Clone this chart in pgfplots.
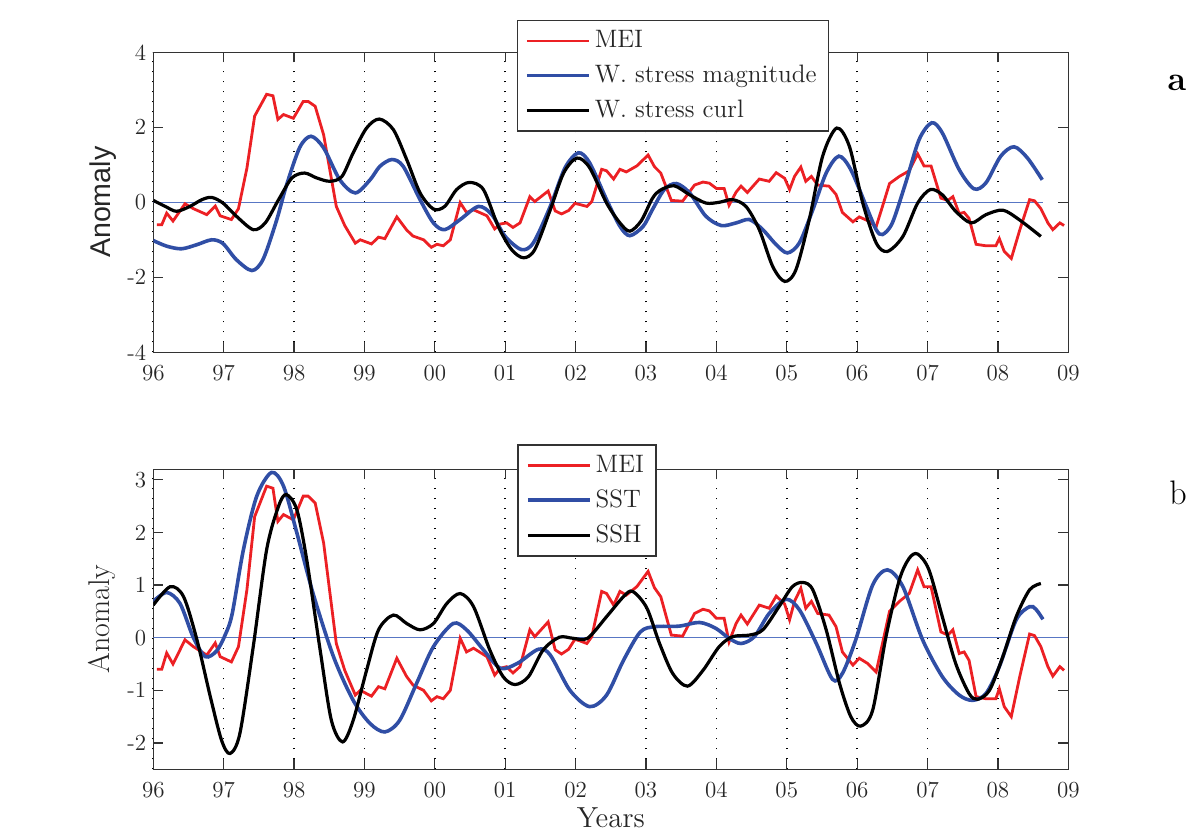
\documentclass[border=0pt]{standalone}
\usepackage{pgfplots}
\pgfplotsset{compat=1.18}
\usepackage{pgfplotstable}
\usepackage{fontspec}
\newfontfamily\arialfont{Liberation Sans}
\definecolor{meired}{RGB}{236,32,36}
\definecolor{lineblue}{RGB}{48,78,165}
\definecolor{zeroblue}{RGB}{88,118,196}

\pgfplotstableread{
x y
96.05 -0.60
96.12 -0.60
96.19 -0.29
96.28 -0.50
96.45 -0.04
96.57 -0.17
96.76 -0.33
96.88 -0.10
96.95 -0.36
97.11 -0.46
97.21 -0.17
97.33 0.91
97.44 2.30
97.61 2.88
97.70 2.84
97.77 2.21
97.85 2.34
97.99 2.24
98.13 2.69
98.20 2.69
98.30 2.56
98.42 1.80
98.60 -0.11
98.72 -0.62
98.87 -1.09
98.94 -1.00
99.10 -1.11
99.20 -0.93
99.29 -0.97
99.46 -0.39
99.60 -0.74
99.69 -0.90
99.84 -1.00
99.95 -1.20
100.03 -1.12
100.12 -1.16
100.22 -1.00
100.36 -0.01
100.45 -0.27
100.55 -0.20
100.74 -0.36
100.85 -0.71
100.93 -0.58
101.02 -0.55
101.11 -0.67
101.21 -0.55
101.35 0.15
101.42 0.02
101.61 0.30
101.71 -0.23
101.80 -0.31
101.90 -0.22
101.99 -0.03
102.06 -0.06
102.16 -0.11
102.23 0.02
102.37 0.88
102.44 0.84
102.54 0.62
102.63 0.88
102.72 0.81
102.87 0.97
103.03 1.26
103.12 0.95
103.21 0.78
103.36 0.05
103.52 0.03
103.69 0.46
103.81 0.54
103.90 0.51
104.00 0.37
104.11 0.37
104.18 -0.08
104.28 0.27
104.35 0.43
104.44 0.26
104.61 0.62
104.75 0.56
104.85 0.79
104.97 0.64
105.04 0.34
105.11 0.69
105.20 0.94
105.27 0.56
105.35 0.69
105.44 0.46
105.60 0.43
105.70 0.21
105.79 -0.27
105.94 -0.52
106.03 -0.39
106.15 -0.49
106.27 -0.65
106.36 -0.11
106.46 0.50
106.60 0.69
106.74 0.84
106.86 1.29
106.95 0.97
107.05 0.97
107.19 0.11
107.29 0.05
107.36 0.15
107.45 -0.30
107.52 -0.27
107.59 -0.43
107.69 -1.12
107.83 -1.16
107.97 -1.16
108.02 -0.97
108.09 -1.31
108.19 -1.50
108.31 -0.74
108.45 0.07
108.52 0.04
108.61 -0.17
108.71 -0.55
108.78 -0.73
108.88 -0.55
108.94 -0.62
}\mei

\pgfplotstableread{
x y
96.00 -1.02
96.19 -1.17
96.40 -1.24
96.62 -1.13
96.83 -1.00
96.99 -1.10
97.18 -1.53
97.40 -1.82
97.56 -1.52
97.75 -0.49
97.89 0.44
98.08 1.46
98.24 1.76
98.42 1.45
98.65 0.60
98.87 0.25
99.08 0.60
99.22 0.96
99.39 1.14
99.55 0.96
99.79 0.07
99.98 -0.55
100.14 -0.73
100.36 -0.46
100.62 -0.11
100.81 -0.33
101.00 -0.91
101.23 -1.26
101.40 -1.08
101.64 -0.11
101.85 0.92
102.04 1.32
102.20 1.05
102.44 0.07
102.63 -0.64
102.77 -0.89
102.96 -0.64
103.09 -0.20
103.26 0.34
103.43 0.50
103.62 0.25
103.85 -0.37
104.07 -0.62
104.28 -0.55
104.47 -0.46
104.66 -0.73
104.85 -1.13
105.01 -1.35
105.18 -1.08
105.37 -0.20
105.56 0.78
105.74 1.23
105.91 0.87
106.13 -0.11
106.27 -0.73
106.36 -0.86
106.50 -0.55
106.69 0.52
106.88 1.67
107.06 2.12
107.21 1.85
107.45 0.87
107.66 0.36
107.83 0.52
108.04 1.23
108.23 1.48
108.42 1.18
108.63 0.60
}\wsm

\pgfplotstableread{
x y
96.00 0.05
96.17 -0.11
96.33 -0.24
96.52 -0.11
96.69 0.07
96.83 0.13
96.99 -0.02
97.18 -0.37
97.42 -0.73
97.59 -0.55
97.78 0.07
97.97 0.65
98.15 0.78
98.32 0.65
98.51 0.56
98.68 0.69
98.84 1.32
99.03 1.98
99.21 2.22
99.41 1.94
99.60 1.14
99.79 0.25
99.98 -0.18
100.14 -0.11
100.31 0.34
100.49 0.53
100.69 0.34
100.90 -0.64
101.09 -1.26
101.26 -1.48
101.42 -1.26
101.64 -0.20
101.83 0.78
102.02 1.18
102.20 0.92
102.44 -0.02
102.63 -0.55
102.77 -0.77
102.93 -0.50
103.09 0.10
103.20 0.32
103.40 0.44
103.62 0.20
103.85 -0.02
104.04 0.00
104.23 0.07
104.42 -0.11
104.61 -0.73
104.80 -1.71
104.97 -2.11
105.13 -1.80
105.32 -0.46
105.51 1.23
105.71 1.98
105.89 1.49
106.08 -0.02
106.27 -1.08
106.43 -1.31
106.65 -0.91
106.86 -0.02
107.04 0.34
107.21 0.20
107.40 -0.24
107.62 -0.55
107.83 -0.33
108.07 -0.21
108.30 -0.46
108.61 -0.91
}\wsc

\pgfplotstableread{
x y
96.00 0.69
96.19 0.86
96.38 0.65
96.57 0.00
96.74 -0.36
96.90 -0.25
97.02 0.05
97.12 0.45
97.28 1.67
97.47 2.69
97.68 3.14
97.85 2.88
98.04 1.99
98.27 0.84
98.56 -0.36
98.84 -1.19
99.08 -1.63
99.29 -1.79
99.50 -1.57
99.74 -0.87
99.98 -0.17
100.26 0.27
100.45 0.15
100.69 -0.23
100.93 -0.58
101.17 -0.49
101.47 -0.22
101.64 -0.33
101.92 -1.00
102.20 -1.31
102.44 -1.09
102.68 -0.43
102.92 0.11
103.13 0.21
103.47 0.22
103.76 0.29
103.99 0.18
104.18 -0.01
104.35 -0.11
104.54 0.02
104.75 0.46
104.99 0.73
105.18 0.53
105.42 -0.11
105.65 -0.79
105.79 -0.68
105.98 -0.04
106.22 1.00
106.43 1.29
106.65 0.97
106.93 -0.04
107.21 -0.74
107.45 -1.09
107.64 -1.19
107.83 -1.06
108.02 -0.55
108.26 0.34
108.45 0.59
108.54 0.54
108.64 0.35
}\sst

\pgfplotstableread{
x y
96.00 0.62
96.24 0.97
96.43 0.78
96.62 -0.04
96.81 -1.12
96.97 -1.95
97.09 -2.20
97.23 -1.82
97.42 -0.17
97.61 1.67
97.78 2.50
97.89 2.72
98.04 2.43
98.18 1.48
98.37 -0.23
98.53 -1.57
98.69 -1.98
98.84 -1.57
99.03 -0.62
99.20 0.15
99.41 0.43
99.60 0.27
99.79 0.15
99.98 0.27
100.17 0.65
100.36 0.84
100.55 0.59
100.78 -0.23
100.97 -0.74
101.14 -0.89
101.33 -0.74
101.54 -0.23
101.77 0.01
101.96 -0.01
102.17 -0.01
102.44 0.40
102.68 0.78
102.81 0.88
103.01 0.57
103.19 -0.10
103.38 -0.68
103.59 -0.92
103.81 -0.62
104.04 -0.17
104.23 0.02
104.47 0.05
104.66 0.15
104.89 0.59
105.08 0.97
105.23 1.05
105.37 0.91
105.56 0.15
105.75 -0.87
105.91 -1.50
106.05 -1.68
106.22 -1.38
106.41 0.02
106.60 1.10
106.74 1.51
106.86 1.59
107.02 1.29
107.21 0.40
107.40 -0.49
107.59 -1.06
107.71 -1.17
107.88 -1.00
108.07 -0.36
108.26 0.40
108.45 0.91
108.61 1.03
}\ssh

\begin{document}
\begin{tikzpicture}
\useasboundingbox (0,0) rectangle (598pt,415pt);
\pgfplotsset{
  panel/.style={
    scale only axis, width=457.5pt, height=150pt, anchor=south west,
    xmin=96, xmax=109,
    xtick={96,97,98,99,100,101,102,103,104,105,106,107,108,109},
    xticklabels={96,97,98,99,00,01,02,03,04,05,06,07,08,09},
    tick align=inside, major tick length=5pt,
    tick style={black!80, line width=0.6pt},
    axis line style={black!80, line width=0.75pt},
    xmajorgrids, grid style={black, line width=0.8pt, dash pattern=on 0.8pt off 4.2pt},
    tick label style={font=\fontsize{11.5}{13}\selectfont, text=black!85},
    xticklabel style={yshift=-3pt},
    legend cell align=left,
    legend image code/.code={\draw[##1] (0pt,0pt) -- (31pt,0pt);},
    legend style={draw=black!80, line width=0.6pt, text=black!85,
      font=\fontsize{12.6}{14}\selectfont, anchor=north west,
      inner xsep=4pt, inner ysep=3pt, row sep=2.6pt,
      nodes={inner sep=2pt, text depth=0.2em}},
  }
}
\begin{axis}[panel, at={(76.65pt,238.85pt)},
  ymin=-4, ymax=4, ytick={-4,-2,0,2,4}, yticklabels={-4,-2,0,2,4},
  ylabel={Anomaly},
  ylabel style={font=\fontsize{14.3}{16}\selectfont\arialfont, text=black!85, at={(axis description cs:-0.055,0.5)}, anchor=center},
  legend style={at={(rel axis cs:0.397,1.108)}},
]
\addplot[zeroblue, line width=0.7pt, forget plot] coordinates {(96,0) (108.64,0)};
\addplot[meired, line width=1.4pt] table {\mei};
\addplot[lineblue, line width=1.8pt, smooth] table {\wsm};
\addplot[black, line width=1.6pt, smooth] table {\wsc};
\legend{MEI, W. stress magnitude, W. stress curl}
\end{axis}

\begin{axis}[panel, at={(76.65pt,30.35pt)},
  ymin=-2.5, ymax=3.2, ytick={-2,-1,0,1,2,3}, yticklabels={-2,-1,0,1,2,3},
  ylabel={Anomaly},
  ylabel style={font=\fontsize{15}{17}\selectfont, text=black!85, at={(axis description cs:-0.056,0.5)}, anchor=center},
  xlabel={Years},
  xlabel style={font=\fontsize{14.5}{16}\selectfont, text=black!85, at={(axis description cs:0.5,-0.160)}, anchor=center},
  legend style={at={(rel axis cs:0.398,1.083)}},
]
\addplot[zeroblue, line width=0.7pt, forget plot] coordinates {(96,0) (109,0)};
\addplot[meired, line width=1.4pt] table {\mei};
\addplot[lineblue, line width=1.8pt, smooth] table {\sst};
\addplot[black, line width=1.6pt, smooth] table {\ssh};
\legend{MEI, SST, SSH}
\end{axis}

\node[font=\fontsize{17}{19}\selectfont\bfseries] at (588.5pt,373.5pt) {a};
\node[font=\fontsize{17}{19}\selectfont] at (589pt,168.75pt) {b};
\end{tikzpicture}
\end{document}
